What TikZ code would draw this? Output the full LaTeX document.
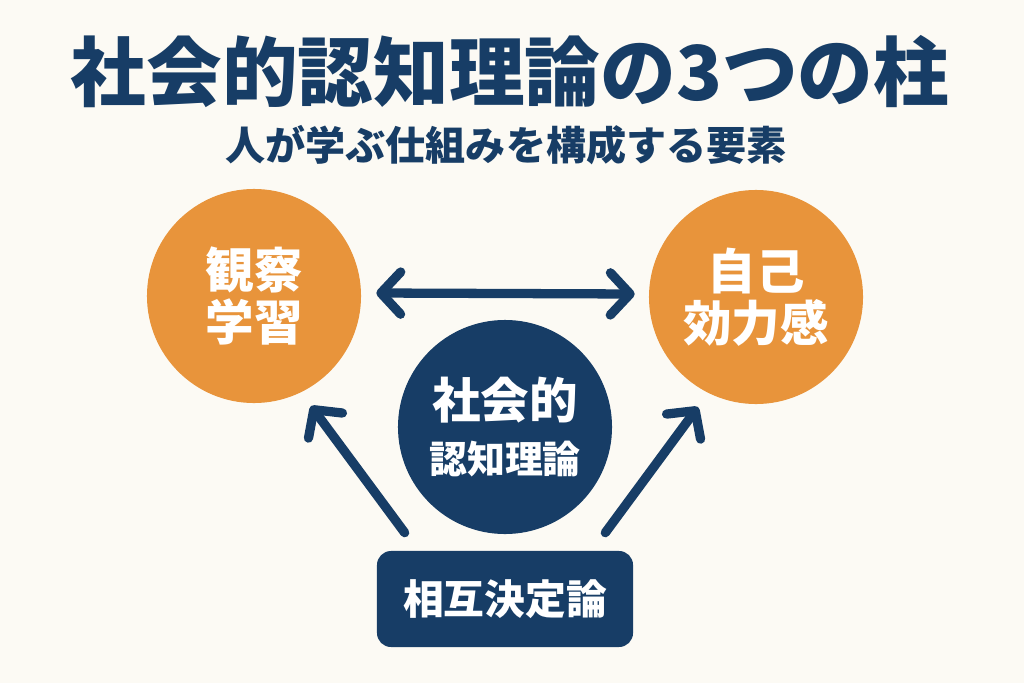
\documentclass[tikz,border=0pt]{standalone}
\usepackage{fontspec}
\newfontfamily\jp{Noto Sans CJK JP}
\usetikzlibrary{arrows.meta,calc}
\definecolor{navy}{HTML}{173D66}
\definecolor{orng}{HTML}{E8943B}
\definecolor{bgc}{HTML}{FCFAF4}
\begin{document}
\begin{tikzpicture}[x=0.025cm,y=-0.025cm,
  jpb/.style={font=\jp\bfseries},
  orcirc/.style={circle,fill=orng,minimum size=5.35cm,inner sep=0pt,text=white,align=center,jpb},
  nvcirc/.style={circle,fill=navy,minimum size=5.35cm,inner sep=0pt,text=white,align=center,jpb},
  nvbox/.style={rectangle,rounded corners=10pt,fill=navy,minimum width=6.4cm,minimum height=2.4cm,text=white,jpb},
  tipb/.tip={Straight Barb[length=14pt,width=30pt,round]},
  arr/.style={draw=navy,line width=6.6pt,line cap=round,-tipb},
  darr/.style={draw=navy,line width=6.6pt,line cap=round,tipb-tipb}
]
\fill[bgc] (0,0) rectangle (1024,683);
\useasboundingbox (0,0) rectangle (1024,683);

\node[jpb,text=navy,font=\jp\bfseries\fontsize{53.8}{60}\selectfont] (title) at (510,72) {社会的認知理論の3つの柱};
\node[jpb,text=navy,font=\jp\bfseries\fontsize{28.5}{32}\selectfont] (sub) at (506,145) {人が学ぶ仕組みを構成する要素};

\node[orcirc,font=\jp\bfseries\fontsize{34.5}{37}\selectfont] (obs) at (254,296) {観察\\学習};
\node[orcirc,font=\jp\bfseries\fontsize{34.5}{37}\selectfont] (eff) at (756,297) {自己\\効力感};
\node[nvcirc,font=\jp\bfseries\fontsize{27}{39}\selectfont] (sct) at (505,427) {{\fontsize{34.5}{39}\selectfont 社会的}\\認知理論};
\node[nvbox,font=\jp\bfseries\fontsize{29}{32}\selectfont] (rd) at (505,599) {相互決定論};

\draw[darr] ([shift={(15,-3)}]obs.east) -- ([shift={(-14,-3)}]eff.west);

\coordinate (l1) at ($(rd.north west)+(28,-18)$);
\coordinate (l2) at ($(obs.center)+(57,110)$);
\coordinate (r1) at ($(rd.north east)+(-28,-18)$);
\coordinate (r2) at ($(eff.center)+(-58,110)$);
\draw[arr] (l1) -- (l2);
\draw[arr] (r1) -- (r2);
\end{tikzpicture}
\end{document}
